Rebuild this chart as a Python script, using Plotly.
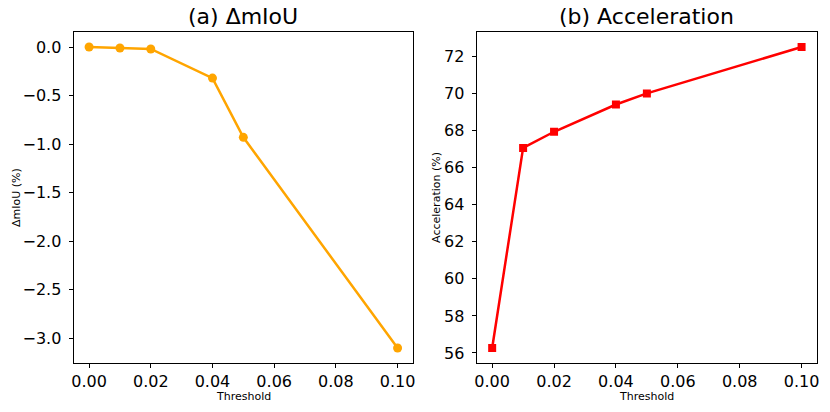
import plotly.graph_objects as go

# dane
threshold = [0.00, 0.01, 0.02, 0.04, 0.05, 0.10]
delta_miou = [0.00, -0.01, -0.02, -0.32, -0.93, -3.10]
acceleration = [56.27, 67.06, 67.93, 69.40, 70.00, 72.50]

W, H = 830, 412
FONT = "DejaVu Sans"


def px(x):
    return x / W


def py(y):
    return 1 - y / H


fig = go.Figure()

fig.add_trace(go.Scatter(
    x=threshold, y=delta_miou, mode="lines+markers",
    line=dict(color="#FFA500", width=2.5),
    marker=dict(color="#FFA500", size=9, symbol="circle"),
    xaxis="x", yaxis="y", showlegend=False))

fig.add_trace(go.Scatter(
    x=threshold, y=acceleration, mode="lines+markers",
    line=dict(color="#FF0000", width=2.5),
    marker=dict(color="#FF0000", size=8, symbol="square"),
    xaxis="x2", yaxis="y2", showlegend=False))

axis_style = dict(
    showline=True, mirror=True, linecolor="black", linewidth=1.1,
    ticks="outside", ticklen=4, tickwidth=1.1, tickcolor="black",
    showgrid=False, zeroline=False,
    tickfont=dict(family=FONT, size=16, color="black"))

fig.update_layout(
    width=W, height=H,
    margin=dict(l=0, r=0, t=0, b=0),
    paper_bgcolor="white", plot_bgcolor="white",
    font=dict(family=FONT, color="black"),
    xaxis=dict(domain=[px(72), px(413)], range=[-0.005, 0.105],
               tickvals=[0, 0.02, 0.04, 0.06, 0.08, 0.10], tickformat=".2f",
               anchor="y", **axis_style),
    yaxis=dict(domain=[py(363), py(32)], range=[-3.255, 0.155],
               tickvals=[0, -0.5, -1.0, -1.5, -2.0, -2.5, -3.0], tickformat=".1f",
               anchor="x", ticklabelstandoff=4, **axis_style),
    xaxis2=dict(domain=[px(477), px(819)], range=[-0.005, 0.105],
                tickvals=[0, 0.02, 0.04, 0.06, 0.08, 0.10], tickformat=".2f",
                anchor="y2", **axis_style),
    yaxis2=dict(domain=[py(363), py(32)], range=[55.46, 73.31],
                tickvals=[56, 58, 60, 62, 64, 66, 68, 70, 72],
                anchor="x2", ticklabelstandoff=4, **axis_style),
)

# tytuły i opisy osi
notes = [
    dict(text="(a) ΔmIoU", x=px(242.5), y=py(17), size=22, angle=0),
    dict(text="(b) Acceleration", x=px(648), y=py(17), size=22, angle=0),
    dict(text="Threshold", x=px(242.5), y=py(396), size=11, angle=0),
    dict(text="Threshold", x=px(648), y=py(396), size=11, angle=0),
    dict(text="ΔmIoU (%)", x=px(14), y=py(197), size=11, angle=-90),
    dict(text="Acceleration (%)", x=px(436), y=py(197), size=11, angle=-90),
]
for n in notes:
    fig.add_annotation(text=n["text"], x=n["x"], y=n["y"], xref="paper", yref="paper",
                       xanchor="center", yanchor="middle", showarrow=False,
                       textangle=n["angle"],
                       font=dict(family=FONT, size=n["size"], color="black"))

# bez domyślnego marginesu strony i bez paska narzędzi
fig.write_html("out.html", config={"displayModeBar": False},
               post_script="document.body.style.margin='0';")
